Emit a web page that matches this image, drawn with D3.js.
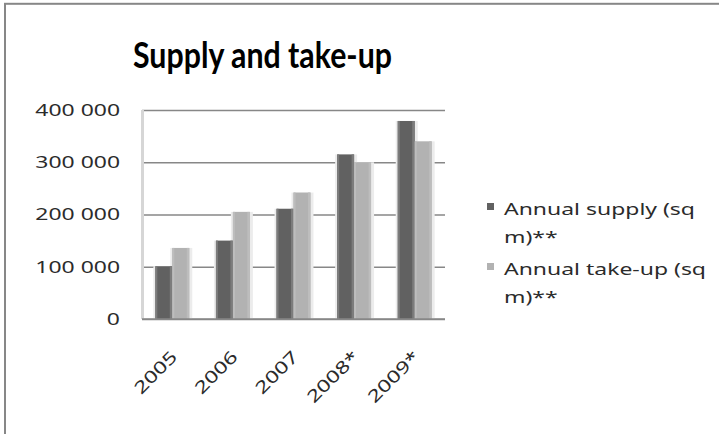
<!DOCTYPE html>
<html>
<head>
<meta charset="utf-8">
<script src="https://cdn.jsdelivr.net/npm/d3@7"></script>
<style>
  body { margin: 0; background: #fff; }
  text { font-family: "Noto Sans", sans-serif; fill: #2b2b2b; }
</style>
</head>
<body>
<script>
// Supply and take-up, clustered columns

var width = 719;
var height = 434;

var years = ["2005", "2006", "2007", "2008*", "2009*"];
var seriesNames = ["Annual supply (sq m)**", "Annual take-up (sq m)**"];
var supply = [101000, 150000, 211000, 315000, 379000];
var takeUp = [136000, 205000, 242000, 300000, 340000];
var yTicks = [0, 100000, 200000, 300000, 400000];

var colors = ["#616161", "#b2b2b2"];
var edgeColors = ["#7c7c7c", "#bdbdbd"];
var stretch = 1.35; // the source text is drawn wider than it is tall

var plot = {left: 142, right: 445, top: 110, bottom: 319};

var rows = years.map(function(y, i) {
  return {year: y, values: [supply[i], takeUp[i]]};
});

var spaceFmt = d3.formatLocale({decimal: ".", thousands: " ", grouping: [3], currency: ["", ""]}).format(",");

var xScale = d3.scaleBand()
  .domain(years)
  .range([plot.left, plot.right])
  .paddingInner(0.44)
  .paddingOuter(0.22);

var xInner = d3.scaleBand()
  .domain([0, 1])
  .range([0, xScale.bandwidth()]);

var yScale = d3.scaleLinear()
  .domain([0, 400000])
  .range([plot.bottom, plot.top]);

var svg = d3.select("body")
  .append("svg")
  .attr("width", width)
  .attr("height", height);

// widen a text to the stretched length
function widen(sel) {
  sel.each(function() {
    var w = this.getComputedTextLength();
    d3.select(this).attr("textLength", w * stretch).attr("lengthAdjust", "spacingAndGlyphs");
  });
}

// outer frame (right and bottom edges fall outside the picture)
svg.append("rect")
  .attr("x", 5).attr("y", 3.8)
  .attr("width", 740).attr("height", 460)
  .attr("fill", "none")
  .attr("stroke", "#878787")
  .attr("stroke-width", 2);

// title
svg.append("text")
  .attr("x", 133).attr("y", 68)
  .attr("font-size", 36)
  .attr("font-weight", "bold")
  .attr("textLength", 259)
  .attr("lengthAdjust", "spacingAndGlyphs")
  .style("font-family", "Lato, 'Noto Sans', sans-serif")
  .style("fill", "#000")
  .text("Supply and take-up");

// gridlines + y labels
var yAxis = d3.axisLeft(yScale)
  .tickValues(yTicks)
  .tickFormat(spaceFmt)
  .tickSize(-(plot.right - plot.left))
  .tickPadding(22);

var gy = svg.append("g")
  .attr("transform", "translate(" + plot.left + ",0)")
  .call(yAxis);
gy.select(".domain").remove();
gy.selectAll(".tick line").attr("stroke", "#878787").attr("stroke-width", 1.6);
gy.selectAll(".tick text")
  .attr("font-size", 17)
  .attr("font-family", "Noto Sans")
  .attr("fill", "#2b2b2b")
  .call(widen);

// light vertical axis band
svg.append("rect")
  .attr("x", plot.left - 1).attr("y", yScale(400000))
  .attr("width", 3).attr("height", yScale(0) - yScale(400000))
  .attr("fill", "#d6d6d6");

// bars
var groups = svg.selectAll(".grp")
  .data(rows)
  .enter()
  .append("g")
  .attr("class", "grp")
  .attr("transform", function(d) { return "translate(" + xScale(d.year) + ",0)"; });

function barData(d) {
  return d.values.map(function(v, k) { return {k: k, v: v}; });
}

// soft halo round each column
groups.selectAll(".halo")
  .data(barData)
  .enter()
  .append("rect")
  .attr("class", "halo")
  .attr("x", function(d) { return xInner(d.k) - 2; })
  .attr("y", function(d) { return yScale(d.v); })
  .attr("width", xInner.bandwidth() + 5)
  .attr("height", function(d) { return yScale(0) - yScale(d.v); })
  .attr("fill", "#ececec");

groups.selectAll(".bar")
  .data(barData)
  .enter()
  .append("rect")
  .attr("class", "bar")
  .attr("x", function(d) { return xInner(d.k); })
  .attr("y", function(d) { return yScale(d.v); })
  .attr("width", xInner.bandwidth())
  .attr("height", function(d) { return yScale(0) - yScale(d.v); })
  .attr("fill", function(d) { return colors[d.k]; });

// lighter edges
groups.selectAll(".edge")
  .data(barData)
  .enter()
  .append("rect")
  .attr("class", "edge")
  .attr("x", function(d) { return xInner(d.k) + xInner.bandwidth() - 2.5; })
  .attr("y", function(d) { return yScale(d.v); })
  .attr("width", 2.5)
  .attr("height", function(d) { return yScale(0) - yScale(d.v); })
  .attr("fill", function(d) { return edgeColors[d.k]; });

groups.selectAll(".edgeL")
  .data(barData)
  .enter()
  .append("rect")
  .attr("class", "edgeL")
  .attr("x", function(d) { return xInner(d.k); })
  .attr("y", function(d) { return yScale(d.v); })
  .attr("width", 2)
  .attr("height", function(d) { return yScale(0) - yScale(d.v); })
  .attr("fill", function(d) { return edgeColors[d.k]; });

// x axis line
svg.append("line")
  .attr("x1", plot.left).attr("x2", plot.right)
  .attr("y1", yScale(0)).attr("y2", yScale(0))
  .attr("stroke", "#878787")
  .attr("stroke-width", 1.6);

// rotated category labels
svg.selectAll(".xlab")
  .data(years)
  .enter()
  .append("text")
  .attr("class", "xlab")
  .attr("text-anchor", "end")
  .attr("font-size", 17)
  .attr("transform", function(d) {
    return "translate(" + (xScale(d) + xScale.bandwidth() / 2 + 6) + "," + (yScale(0) + 39) + ") rotate(-45)";
  })
  .text(function(d) { return d; })
  .call(widen);

// legend
var legendLines = [["Annual supply (sq", "m)**"], ["Annual take-up (sq", "m)**"]];
var legend = svg.selectAll(".leg")
  .data(seriesNames)
  .enter()
  .append("g")
  .attr("class", "leg")
  .attr("transform", function(d, i) { return "translate(487," + (203 + i * 60) + ")"; });

legend.append("rect")
  .attr("width", 7).attr("height", 7)
  .attr("fill", function(d, i) { return colors[i]; });

legend.each(function(d, i) {
  var g = d3.select(this);
  legendLines[i].forEach(function(line, j) {
    g.append("text")
      .attr("x", 17)
      .attr("y", 12 + j * 28)
      .attr("font-size", 17)
      .attr("fill", "#2b2b2b")
      .text(line)
      .call(widen);
  });
});
</script>
</body>
</html>
